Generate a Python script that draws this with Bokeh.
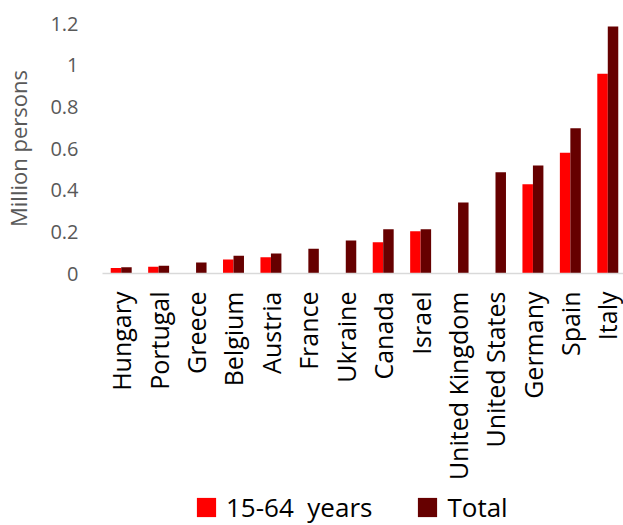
import math
import numpy as np
from bokeh.plotting import figure
from bokeh.layouts import column
from bokeh.models import (ColumnDataSource, Range1d, FixedTicker, Legend, LegendItem)
from bokeh.transform import dodge
from bokeh.embed import file_html
from bokeh.resources import INLINE

countries = ["Hungary", "Portugal", "Greece", "Belgium", "Austria", "France", "Ukraine",
             "Canada", "Israel", "United Kingdom", "United States", "Germany", "Spain", "Italy"]
age_15_64 = [0.026, 0.032, float("nan"), 0.067, 0.078, float("nan"), float("nan"),
             0.150, 0.203, float("nan"), float("nan"), 0.429, 0.580, 0.959]
total = [0.030, 0.037, 0.053, 0.085, 0.096, 0.119, 0.159,
         0.212, 0.213, 0.341, 0.486, 0.518, 0.697, 1.186]
series_labels = ["15-64  years", "Total"]
y_ticks = [0, 0.2, 0.4, 0.6, 0.8, 1.0, 1.2]
y_tick_labels = ["0", "0.2", "0.4", "0.6", "0.8", "1", "1.2"]

FONT = "Open Sans"
RED = "#FF0000"
DARK = "#660000"

idx = list(range(len(countries)))
src = ColumnDataSource(dict(x=idx, a=age_15_64, t=total))

p = figure(width=623, height=485, output_backend="svg", toolbar_location=None,
           x_range=Range1d(-0.5, 13.42), y_range=Range1d(0, 1.2),
           min_border_left=102, min_border_right=0, min_border_top=23, min_border_bottom=212)
p.outline_line_color = None
p.xgrid.visible = False
p.ygrid.visible = False

r1 = p.vbar(x=dodge("x", -0.14, range=p.x_range), top="a", width=0.28, source=src,
            fill_color=RED, line_color=None)
r2 = p.vbar(x=dodge("x", 0.14, range=p.x_range), top="t", width=0.28, source=src,
            fill_color=DARK, line_color=None)

# y axis
yax = p.yaxis[0]
yax.ticker = FixedTicker(ticks=y_ticks)
yax.major_label_overrides = {t: l for t, l in zip(y_ticks, y_tick_labels)}
yax.axis_line_color = None
yax.major_tick_line_color = None
yax.minor_tick_line_color = None
yax.major_tick_out = 0
yax.major_tick_in = 0
yax.minor_tick_out = 0
yax.major_label_standoff = 24
yax.major_label_text_font = FONT
yax.major_label_text_font_size = "20px"
yax.major_label_text_color = "#595959"
yax.axis_label = "Million persons"
yax.axis_label_text_font = FONT
yax.axis_label_text_font_size = "22px"
yax.axis_label_text_font_style = "normal"
yax.axis_label_text_color = "#595959"
yax.axis_label_standoff = 14

# x axis
xax = p.xaxis[0]
xax.ticker = FixedTicker(ticks=idx)
xax.major_label_overrides = {i: c for i, c in zip(idx, countries)}
xax.major_label_orientation = math.pi / 2
xax.axis_line_color = "#D9D9D9"
xax.axis_line_width = 1.5
xax.major_tick_line_color = None
xax.minor_tick_line_color = None
xax.major_tick_out = 0
xax.major_tick_in = 0
xax.minor_tick_out = 0
xax.major_label_standoff = 18
xax.major_label_text_font = FONT
xax.major_label_text_font_size = "25px"
xax.major_label_text_color = "black"

# legend strip below the chart (its bars lie outside its visible y range)
p2 = figure(width=623, height=40, output_backend="svg", toolbar_location=None,
            x_range=Range1d(-0.5, 13.42), y_range=Range1d(5, 6),
            x_axis_location=None, y_axis_location=None, min_border=0)
p2.outline_line_color = None
p2.xgrid.visible = False
p2.ygrid.visible = False
d1 = p2.vbar(x=dodge("x", -0.14, range=p2.x_range), top="a", width=0.28, source=src,
             fill_color=RED, line_color=None)
d2 = p2.vbar(x=dodge("x", 0.14, range=p2.x_range), top="t", width=0.28, source=src,
             fill_color=DARK, line_color=None)

legend = Legend(items=[LegendItem(label=series_labels[0], renderers=[d1]),
                       LegendItem(label=series_labels[1], renderers=[d2])],
                orientation="horizontal", location=(92, 0),
                glyph_width=24, glyph_height=24, label_standoff=8, spacing=43,
                padding=0, margin=0, border_line_color=None, background_fill_alpha=0,
                label_text_font=FONT, label_text_font_size="26px", label_text_color="black")
p2.add_layout(legend)

layout = column(p, p2, spacing=0)
open("out.html", "w").write(file_html(layout, INLINE))
